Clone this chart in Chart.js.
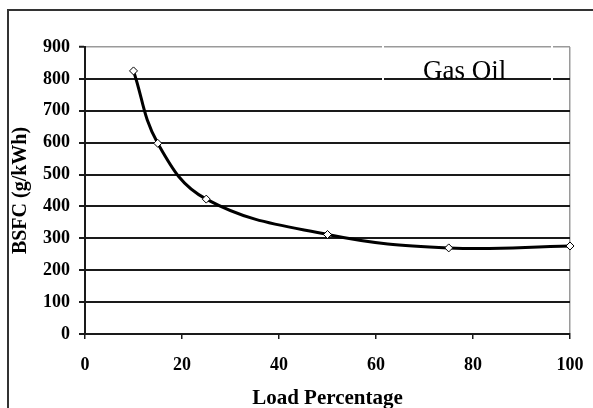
<!DOCTYPE html>
<html>
<head>
<meta charset="utf-8">
<script src="https://cdn.jsdelivr.net/npm/chart.js@4"></script>
<style>
  html, body { margin: 0; padding: 0; background: #fff; }
  #wrap { width: 593px; height: 408px; }
</style>
</head>
<body>
<div id="wrap"><canvas id="bsfcChart" width="593" height="408"></canvas></div>
<script>
// Données
const loadPercent = [10, 15, 25, 50, 75, 100];
const bsfcValues = [825, 598, 423, 312, 270, 276];
const xTicks = [0, 20, 40, 60, 80, 100];
const yTicks = [0, 100, 200, 300, 400, 500, 600, 700, 800, 900];
const seriesLabel = "Gas Oil";

const dark = "#1a1a1a";
const light = "#9a9a9a";
const serif = "'Liberation Serif', 'Times New Roman', serif";

// Cadre extérieur + étiquette "Gas Oil"
const decor = {
  id: "decor",
  beforeDraw(chart) {
    const ctx = chart.ctx;
    ctx.save();
    ctx.fillStyle = "#fff";
    ctx.fillRect(0, 0, chart.width, chart.height);
    ctx.strokeStyle = "#333";
    ctx.lineWidth = 2;
    ctx.strokeRect(8, 10, chart.width + 20, chart.height + 20);
    ctx.restore();
  },
  afterDatasetsDraw(chart) {
    const ctx = chart.ctx;
    const y = chart.scales.y.getPixelForValue(800);
    ctx.save();
    // bords blancs de la zone de texte
    ctx.fillStyle = "#fff";
    ctx.fillRect(382, 44, 2, 38);
    ctx.fillRect(551, 44, 2, 38);
    ctx.font = "27px " + serif;
    ctx.fillStyle = "#000";
    ctx.textBaseline = "alphabetic";
    ctx.textAlign = "left";
    ctx.fillText(seriesLabel, 423, y);
    ctx.restore();
  }
};

new Chart(document.getElementById("bsfcChart").getContext("2d"), {
  type: "line",
  data: {
    datasets: [{
      label: seriesLabel,
      data: loadPercent.map((x, i) => ({ x, y: bsfcValues[i] })),
      borderColor: "#000",
      borderWidth: 3,
      tension: 0.4,
      pointStyle: "rectRot",
      pointRadius: 4,
      pointBorderWidth: 1,
      pointBackgroundColor: "#fff",
      pointBorderColor: "#000",
      clip: false
    }]
  },
  options: {
    responsive: false,
    animation: false,
    layout: { padding: { left: 0, top: 47, right: 23, bottom: 0 } },
    plugins: {
      legend: { display: false },
      tooltip: { enabled: false }
    },
    scales: {
      x: {
        type: "linear",
        min: 0,
        max: 100,
        afterBuildTicks: s => { s.ticks = xTicks.map(v => ({ value: v })); },
        afterFit: s => { s.height = 74; s.paddingRight = 0; s.paddingLeft = 0; },
        border: { color: dark, width: 2 },
        grid: {
          color: c => (c.tick && c.tick.value === 100 ? light : "rgba(0,0,0,0)"),
          lineWidth: 1.5,
          tickColor: dark,
          tickLength: 5,
          tickWidth: 1.5
        },
        ticks: {
          color: "#000",
          padding: 16,
          maxRotation: 0,
          font: { family: serif, size: 18, weight: "bold" }
        },
        title: {
          display: true,
          text: "Load Percentage",
          color: "#000",
          padding: { top: 0, bottom: 0 },
          font: { family: serif, size: 21, weight: "bold", lineHeight: 0.85 }
        }
      },
      y: {
        min: 0,
        max: 900,
        afterBuildTicks: s => { s.ticks = yTicks.map(v => ({ value: v })); },
        afterFit: s => { s.width = 85; },
        border: { color: dark, width: 2 },
        grid: {
          color: c => (c.tick && c.tick.value === 900 ? light : dark),
          lineWidth: c => (c.tick && c.tick.value === 900 ? 1.5 : 2),
          tickColor: dark,
          tickLength: 6,
          tickWidth: 2
        },
        ticks: {
          color: "#000",
          padding: 9,
          font: { family: serif, size: 18, weight: "bold" }
        },
        title: {
          display: true,
          text: "BSFC (g/kWh)",
          color: "#000",
          padding: { top: 9, bottom: 0 },
          font: { family: serif, size: 20, weight: "bold" }
        }
      }
    }
  },
  plugins: [decor]
});
</script>
</body>
</html>
